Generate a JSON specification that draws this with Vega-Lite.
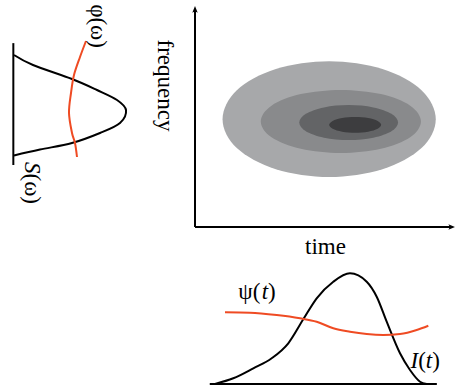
{
  "$schema": "https://vega.github.io/schema/vega-lite/v6.json",
  "padding": 0,
  "autosize": {"type": "pad"},
  "spacing": 4,
  "config": {"view": {"stroke": null}, "font": "Liberation Serif"},
  "datasets": {
    "ellipses": [
      {"e":1,"k":0,"t":9.26,"f":4.75},{"e":1,"k":1,"t":8.711,"f":6.025},{"e":1,"k":2,"t":7.21,"f":6.958},{"e":1,"k":3,"t":5.16,"f":7.3},{"e":1,"k":4,"t":3.11,"f":6.958},{"e":1,"k":5,"t":1.609,"f":6.025},{"e":1,"k":6,"t":1.06,"f":4.75},{"e":1,"k":7,"t":1.609,"f":3.475},{"e":1,"k":8,"t":3.11,"f":2.542},{"e":1,"k":9,"t":5.16,"f":2.2},{"e":1,"k":10,"t":7.21,"f":2.542},{"e":1,"k":11,"t":8.711,"f":3.475},
      {"e":2,"k":0,"t":8.69,"f":4.65},{"e":2,"k":1,"t":8.277,"f":5.345},{"e":2,"k":2,"t":7.15,"f":5.854},{"e":2,"k":3,"t":5.61,"f":6.04},{"e":2,"k":4,"t":4.07,"f":5.854},{"e":2,"k":5,"t":2.943,"f":5.345},{"e":2,"k":6,"t":2.53,"f":4.65},{"e":2,"k":7,"t":2.943,"f":3.955},{"e":2,"k":8,"t":4.07,"f":3.446},{"e":2,"k":9,"t":5.61,"f":3.26},{"e":2,"k":10,"t":7.15,"f":3.446},{"e":2,"k":11,"t":8.277,"f":3.955},
      {"e":3,"k":0,"t":7.81,"f":4.6},{"e":3,"k":1,"t":7.555,"f":4.985},{"e":3,"k":2,"t":6.86,"f":5.267},{"e":3,"k":3,"t":5.91,"f":5.37},{"e":3,"k":4,"t":4.96,"f":5.267},{"e":3,"k":5,"t":4.265,"f":4.985},{"e":3,"k":6,"t":4.01,"f":4.6},{"e":3,"k":7,"t":4.265,"f":4.215},{"e":3,"k":8,"t":4.96,"f":3.933},{"e":3,"k":9,"t":5.91,"f":3.83},{"e":3,"k":10,"t":6.86,"f":3.933},{"e":3,"k":11,"t":7.555,"f":4.215},
      {"e":4,"k":0,"t":7.16,"f":4.5},{"e":4,"k":1,"t":7.026,"f":4.675},{"e":4,"k":2,"t":6.66,"f":4.803},{"e":4,"k":3,"t":6.16,"f":4.85},{"e":4,"k":4,"t":5.66,"f":4.803},{"e":4,"k":5,"t":5.294,"f":4.675},{"e":4,"k":6,"t":5.16,"f":4.5},{"e":4,"k":7,"t":5.294,"f":4.325},{"e":4,"k":8,"t":5.66,"f":4.197},{"e":4,"k":9,"t":6.16,"f":4.15},{"e":4,"k":10,"t":6.66,"f":4.197},{"e":4,"k":11,"t":7.026,"f":4.325}
    ]
  },
  "vconcat": [
    {
      "hconcat": [
        {
          "width": 180,
          "height": 227,
          "encoding": {
            "x": {"field": "s", "type": "quantitative", "scale": {"domain": [-0.12, 1.5], "nice": false, "zero": false}, "axis": null},
            "y": {"field": "w", "type": "quantitative", "scale": {"domain": [0, 10], "nice": false, "zero": false}, "axis": null}
          },
          "layer": [
            {
              "data": {"values": [{"s": 0, "w": 2.73, "s2": 0, "w2": 8.1}]},
              "mark": {"type": "rule", "color": "black", "strokeWidth": 2},
              "encoding": {"x2": {"field": "s2"}, "y2": {"field": "w2"}}
            },
            {
              "data": {"values": [
                {"i":0,"s":0.006,"w":7.577},{"i":1,"s":0.177,"w":7.137},{"i":2,"s":0.528,"w":6.52},{"i":3,"s":0.753,"w":6.035},{"i":4,"s":0.933,"w":5.595},{"i":5,"s":1.014,"w":5.154},{"i":6,"s":0.96,"w":4.581},{"i":7,"s":0.78,"w":4.141},{"i":8,"s":0.528,"w":3.7},{"i":9,"s":0.24,"w":3.41},{"i":10,"s":0.006,"w":3.15}
              ]},
              "mark": {"type": "line", "interpolate": "cardinal", "color": "black", "strokeWidth": 2},
              "encoding": {"order": {"field": "i"}}
            },
            {
              "data": {"values": [
                {"i":0,"s":0.654,"w":8.194},{"i":1,"s":0.6,"w":7.489},{"i":2,"s":0.546,"w":6.696},{"i":3,"s":0.519,"w":5.903},{"i":4,"s":0.501,"w":5.022},{"i":5,"s":0.528,"w":4.141},{"i":6,"s":0.555,"w":3.7},{"i":7,"s":0.573,"w":3.084}
              ]},
              "mark": {"type": "line", "interpolate": "cardinal", "color": "#ef4b23", "strokeWidth": 2},
              "encoding": {"order": {"field": "i"}}
            },
            {
              "data": {"values": [{"label": "φ(ω)", "s": 0.762, "w": 8.855}]},
              "mark": {"type": "text", "angle": 90, "align": "center", "baseline": "middle", "fontSize": 23, "font": "Liberation Serif", "color": "black"},
              "encoding": {"text": {"field": "label"}}
            },
            {
              "data": {"values": [{"label": "S", "s": 0.168, "w": 2.863}]},
              "mark": {"type": "text", "angle": 90, "align": "left", "baseline": "middle", "fontSize": 23, "font": "Liberation Serif", "fontStyle": "italic", "color": "black"},
              "encoding": {"text": {"field": "label"}}
            },
            {
              "data": {"values": [{"label": "(ω)", "s": 0.168, "w": 2.357}]},
              "mark": {"type": "text", "angle": 90, "align": "left", "baseline": "middle", "fontSize": 23, "font": "Liberation Serif", "color": "black"},
              "encoding": {"text": {"field": "label"}}
            }
          ]
        },
        {
          "width": 260,
          "height": 227,
          "encoding": {
            "x": {"field": "t", "type": "quantitative", "scale": {"domain": [0, 10], "nice": false, "zero": false},
              "axis": {"title": "time", "domain": false, "ticks": false, "labels": false, "grid": false, "titleFont": "Liberation Serif", "titleFontSize": 23, "titleFontWeight": "normal", "titleColor": "black", "titlePadding": 8}},
            "y": {"field": "f", "type": "quantitative", "scale": {"domain": [0, 10], "nice": false, "zero": false},
              "axis": {"title": "frequency", "domain": false, "ticks": false, "labels": false, "grid": false, "titleFont": "Liberation Serif", "titleFontSize": 23, "titleFontWeight": "normal", "titleColor": "black", "titlePadding": 20, "titleAngle": 90, "titleBaseline": "top", "titleAlign": "center", "titleY": 85}}
          },
          "layer": [
            {"data": {"name": "ellipses"}, "transform": [{"filter": "datum.e == 1"}], "mark": {"type": "line", "interpolate": "cardinal-closed", "fill": "#a7a8aa", "stroke": null, "strokeWidth": 0}, "encoding": {"order": {"field": "k"}}},
            {"data": {"name": "ellipses"}, "transform": [{"filter": "datum.e == 2"}], "mark": {"type": "line", "interpolate": "cardinal-closed", "fill": "#898a8c", "stroke": null, "strokeWidth": 0}, "encoding": {"order": {"field": "k"}}},
            {"data": {"name": "ellipses"}, "transform": [{"filter": "datum.e == 3"}], "mark": {"type": "line", "interpolate": "cardinal-closed", "fill": "#636466", "stroke": null, "strokeWidth": 0}, "encoding": {"order": {"field": "k"}}},
            {"data": {"name": "ellipses"}, "transform": [{"filter": "datum.e == 4"}], "mark": {"type": "line", "interpolate": "cardinal-closed", "fill": "#3d3d3f", "stroke": null, "strokeWidth": 0}, "encoding": {"order": {"field": "k"}}},
            {
              "data": {"values": [{"t": 0, "f": 0, "t2": 9.85, "f2": 0}, {"t": 0, "f": 0, "t2": 0, "f2": 9.6}]},
              "mark": {"type": "rule", "color": "black", "strokeWidth": 2},
              "encoding": {"x2": {"field": "t2"}, "y2": {"field": "f2"}}
            },
            {
              "data": {"values": [{"t": 0, "f": 9.56}]},
              "mark": {"type": "point", "shape": "M0,-1L0.7,0.7L0,0.3L-0.7,0.7Z", "filled": true, "color": "black", "size": 60, "opacity": 1}
            },
            {
              "data": {"values": [{"t": 9.85, "f": 0}]},
              "mark": {"type": "point", "shape": "M1,0L-0.7,0.7L-0.3,0L-0.7,-0.7Z", "filled": true, "color": "black", "size": 60, "opacity": 1}
            }
          ]
        }
      ],
      "spacing": 15,
      "bounds": "flush"
    },
    {
      "width": 456,
      "height": 128,
      "encoding": {
        "x": {"field": "t", "type": "quantitative", "scale": {"domain": [-4.6, 5.4], "nice": false, "zero": false}, "axis": null},
        "y": {"field": "v", "type": "quantitative", "scale": {"domain": [-0.05, 1], "nice": false, "zero": false}, "axis": null}
      },
      "layer": [
        {
          "data": {"values": [{"t": 0, "v": 0, "t2": 4.98, "v2": 0}]},
          "mark": {"type": "rule", "color": "black", "strokeWidth": 2},
          "encoding": {"x2": {"field": "t2"}, "y2": {"field": "v2"}}
        },
        {
          "data": {"values": [
            {"t":0.115,"v":0},{"t":0.516,"v":0.046},{"t":0.955,"v":0.128},{"t":1.358,"v":0.21},{"t":1.722,"v":0.333},{"t":2.051,"v":0.53},{"t":2.345,"v":0.702},{"t":2.709,"v":0.838},{"t":3.075,"v":0.907},{"t":3.442,"v":0.838},{"t":3.661,"v":0.715},{"t":3.88,"v":0.51},{"t":4.172,"v":0.251},{"t":4.391,"v":0.114},{"t":4.611,"v":0.018},{"t":4.757,"v":0}
          ]},
          "mark": {"type": "line", "interpolate": "monotone", "color": "black", "strokeWidth": 2}
        },
        {
          "data": {"values": [
            {"t":0.334,"v":0.587},{"t":0.882,"v":0.584},{"t":1.468,"v":0.565},{"t":1.979,"v":0.538},{"t":2.345,"v":0.51},{"t":2.709,"v":0.456},{"t":3.075,"v":0.428},{"t":3.442,"v":0.409},{"t":3.806,"v":0.401},{"t":4.172,"v":0.409},{"t":4.538,"v":0.442},{"t":4.793,"v":0.477}
          ]},
          "mark": {"type": "line", "interpolate": "monotone", "color": "#ef4b23", "strokeWidth": 2}
        },
        {
          "data": {"values": [{"label": "ψ(", "t": 0.625, "v": 0.75}, {"label": ")", "t": 1.279, "v": 0.75}, {"label": "(", "t": 4.571, "v": 0.188}, {"label": ")", "t": 4.878, "v": 0.188}]},
          "mark": {"type": "text", "align": "left", "baseline": "middle", "fontSize": 23, "font": "Liberation Serif", "color": "black"},
          "encoding": {"text": {"field": "label"}}
        },
        {
          "data": {"values": [{"label": "t", "t": 1.139, "v": 0.75}, {"label": "I", "t": 4.402, "v": 0.188}, {"label": "t", "t": 4.738, "v": 0.188}]},
          "mark": {"type": "text", "align": "left", "baseline": "middle", "fontSize": 23, "font": "Liberation Serif", "fontStyle": "italic", "color": "black"},
          "encoding": {"text": {"field": "label"}}
        }
      ]
    }
  ]
}
